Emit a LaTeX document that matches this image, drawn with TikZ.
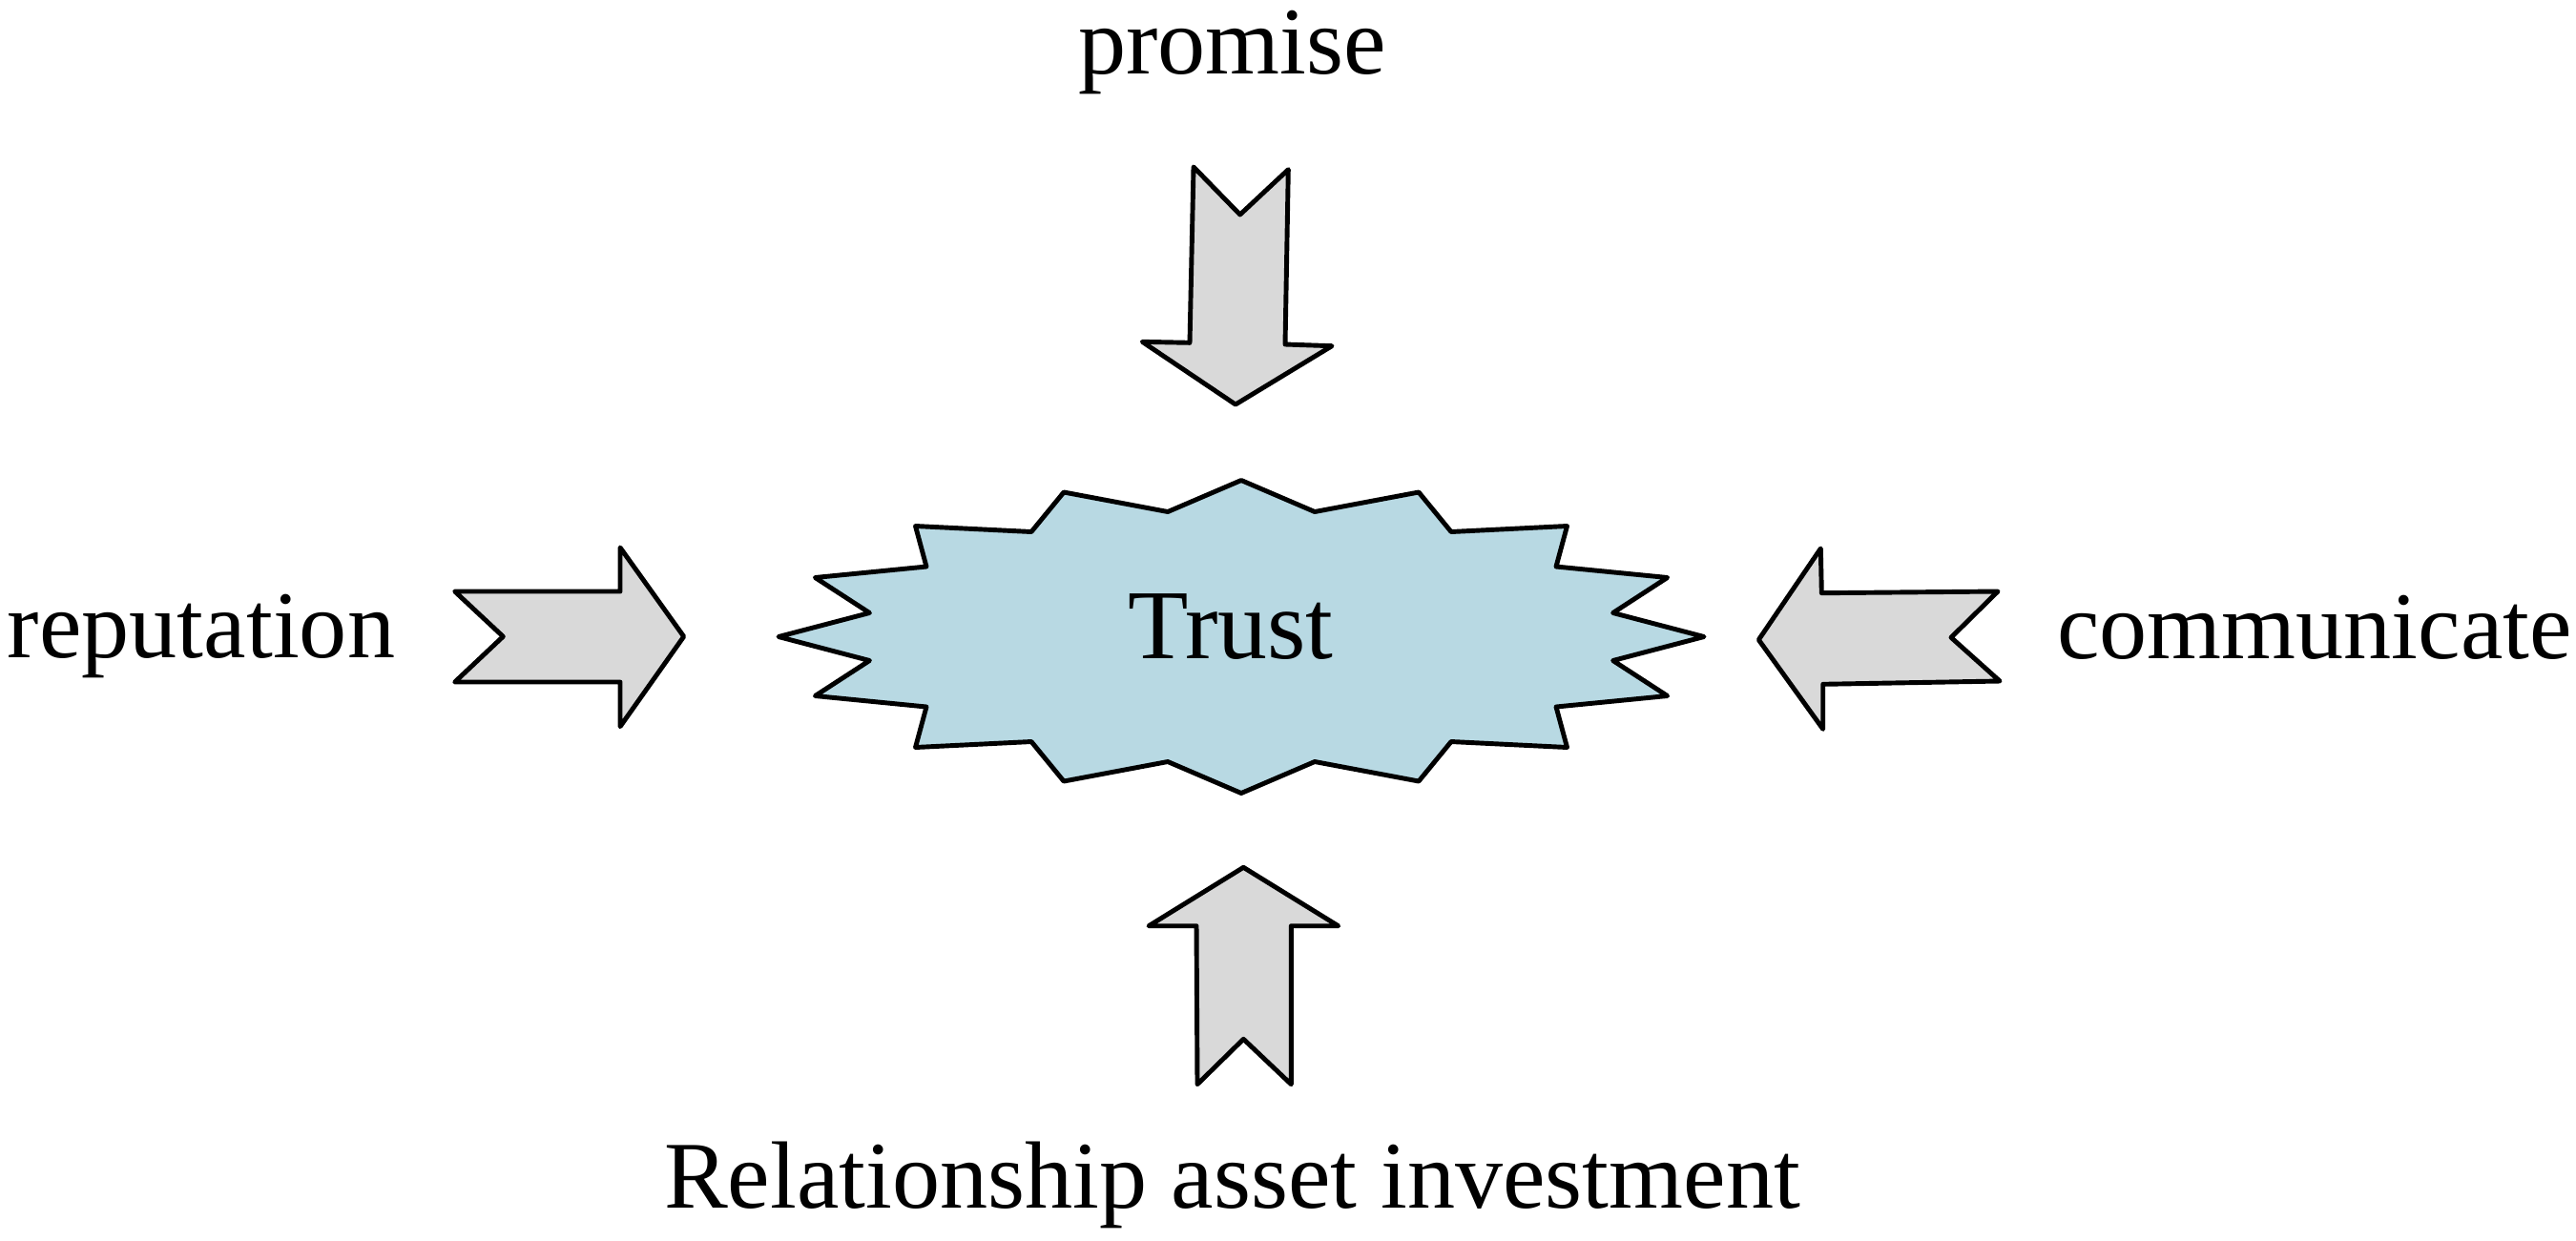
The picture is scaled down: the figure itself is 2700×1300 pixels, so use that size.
\documentclass[tikz,border=0pt]{standalone}
\usepackage{fontspec}
\setmainfont{Liberation Serif}
\definecolor{burstblue}{HTML}{B8D9E3}
\definecolor{arrowgray}{HTML}{D9D9D9}
\tikzset{
  blockarrow/.style={draw=black, fill=arrowgray, line width=1.4pt, line join=round},
  burst/.style={draw=black, fill=burstblue, line width=1.4pt, line join=round},
  lbl/.style={anchor=base, inner sep=0pt, font=\fontsize{28.5}{34}\selectfont}
}
\begin{document}
\begin{tikzpicture}[x=0.1mm, y=-0.1mm]
\useasboundingbox (0,0) rectangle (2700,1300);
% starburst
\draw[burst] (1301,503.5) -- (1378,536.5) -- (1487,516) -- (1521,557.5) -- (1642.5,551.5) -- (1631,594) -- (1747.6,605.5) -- (1690.6,642.5) -- (1786,667.5) -- (1690.6,692.5) -- (1747.6,729.5) -- (1631,741) -- (1642.5,783.5) -- (1521,777.5) -- (1487,819) -- (1378,798.5) -- (1301,831.5)
 -- (1224,798.5) -- (1115,819) -- (1081,777.5) -- (959.5,783.5) -- (971,741) -- (854.4,729.5) -- (911.4,692.5) -- (816,667.5) -- (911.4,642.5) -- (854.4,605.5) -- (971,594) -- (959.5,551.5) -- (1081,557.5) -- (1115,516) -- (1224,536.5) -- cycle;
\node[lbl, font=\fontsize{29.5}{35}\selectfont] (trust) at (1290,690) {Trust};
% top arrow (down)
\draw[blockarrow] (1251,175) -- (1299.7,225) -- (1350.3,177.7) -- (1347,361) -- (1396,362.7) -- (1295,424) -- (1197.3,358.3) -- (1247,359.3) -- cycle;
% left arrow (right)
\draw[blockarrow] (476.7,620) -- (650,620) -- (650,574) -- (716.7,667.3) -- (650,761.7) -- (650,715) -- (476.7,715) -- (527.3,667.3) -- cycle;
% right arrow (left)
\draw[blockarrow] (1843.3,670.7) -- (1908.3,575) -- (1909.3,621.7) -- (2094,620) -- (2045,668.3) -- (2096,714) -- (1910.7,717.3) -- (1910.7,764.3) -- cycle;
% bottom arrow (up)
\draw[blockarrow] (1303.3,909.3) -- (1402.7,970.7) -- (1353.3,970.7) -- (1353.3,1136.7) -- (1303.3,1089.3) -- (1255,1136.7) -- (1254,970.7) -- (1204,970.7) -- cycle;
% labels
\node[lbl] (promise) at (1291.5,77) {promise};
\node[lbl] (reputation) at (211,689.5) {reputation};
\node[lbl] (communicate) at (2426,690.5) {communicate};
\node[lbl] (relationship) at (1291.5,1266) {Relationship asset investment};
\end{tikzpicture}
\end{document}
